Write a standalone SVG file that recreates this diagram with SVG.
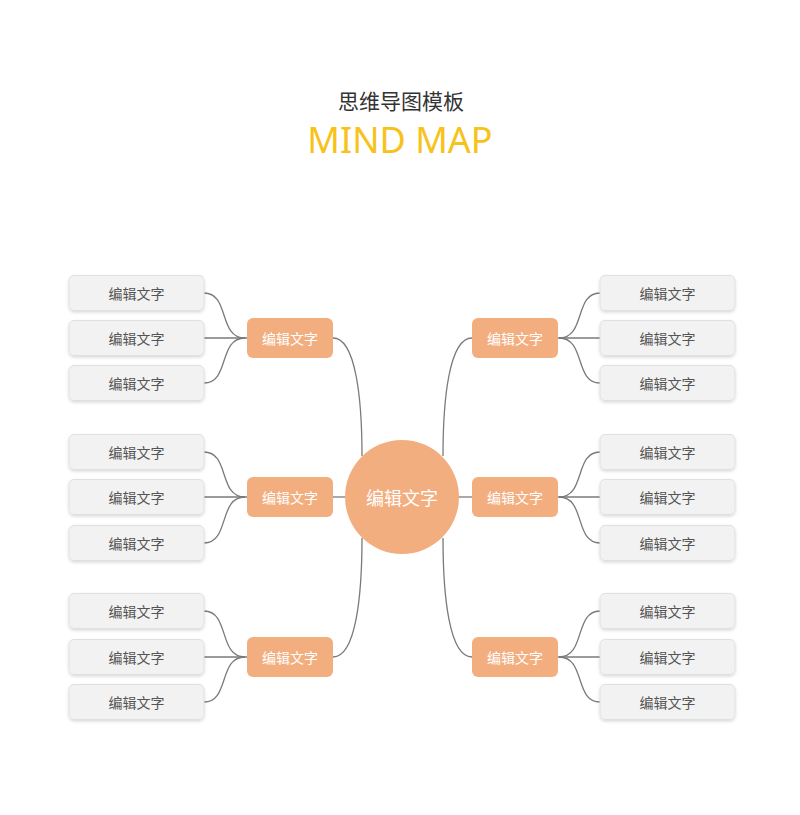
<svg xmlns="http://www.w3.org/2000/svg" width="800" height="815" viewBox="0 0 800 815">
<defs>
<filter id="sh" x="-10%" y="-20%" width="120%" height="150%">
<feDropShadow dx="0" dy="1.5" stdDeviation="1.5" flood-color="#000" flood-opacity="0.15"/>
</filter>
<style>
.leaf rect{fill:#F2F2F2;stroke:#E0E0E0;stroke-width:1;filter:url(#sh)}
.leaf text{font-family:"Noto Sans CJK SC","Noto Sans",sans-serif;font-size:14px;fill:#555;text-anchor:middle;dominant-baseline:central}
.mid rect{fill:#F3AE80}
.mid text{font-family:"Noto Sans CJK SC","Noto Sans",sans-serif;font-size:14px;fill:#fff;text-anchor:middle;dominant-baseline:central}
.conn path{fill:none;stroke:#7A7A7A;stroke-width:1.3}
</style>
</defs>
<rect width="800" height="815" fill="#fff"/>
<text x="401" y="100" font-family="Noto Sans CJK SC,sans-serif" font-size="21" fill="#333" text-anchor="middle" dominant-baseline="central">思维导图模板</text>
<text x="400" y="153" font-family="Noto Sans,Open Sans,sans-serif" font-size="36" fill="#F7C21A" text-anchor="middle">MIND MAP</text>
<g class="conn" id="connectors">
<path d="M333,338 C356,338 362,400 362,456"/>
<path d="M333,497 L346,497"/>
<path d="M333,657 C356,657 362,595 362,538"/>
<path d="M472,338 C449,338 443,400 443,456"/>
<path d="M472,497 L459,497"/>
<path d="M472,657 C449,657 443,595 443,538"/>
<path d="M204,293 C230,293 218,338 245,338"/><path d="M204,338 L247,338"/><path d="M204,383 C230,383 218,338 245,338"/>
<path d="M204,452 C230,452 218,497 245,497"/><path d="M204,497 L247,497"/><path d="M204,543 C230,543 218,497 245,497"/>
<path d="M204,611 C230,611 218,657 245,657"/><path d="M204,657 L247,657"/><path d="M204,702 C230,702 218,657 245,657"/>
<path d="M600,293 C574,293 586,338 559,338"/><path d="M600,338 L557,338"/><path d="M600,383 C574,383 586,338 559,338"/>
<path d="M600,452 C574,452 586,497 559,497"/><path d="M600,497 L557,497"/><path d="M600,543 C574,543 586,497 559,497"/>
<path d="M600,611 C574,611 586,657 559,657"/><path d="M600,657 L557,657"/><path d="M600,702 C574,702 586,657 559,657"/>
</g>
<g id="center"><circle cx="402" cy="497" r="57" fill="#F3AE80"/><text x="402" y="497" font-family="Noto Sans CJK SC,sans-serif" font-size="18" fill="#fff" text-anchor="middle" dominant-baseline="central">编辑文字</text></g>
<g id="mid-l1" class="mid"><rect x="247" y="318" width="86" height="40" rx="6"/><text x="290" y="338">编辑文字</text></g>
<g id="mid-l2" class="mid"><rect x="247" y="477" width="86" height="40" rx="6"/><text x="290" y="497">编辑文字</text></g>
<g id="mid-l3" class="mid"><rect x="247" y="637" width="86" height="40" rx="6"/><text x="290" y="657">编辑文字</text></g>
<g id="mid-r1" class="mid"><rect x="472" y="318" width="86" height="40" rx="6"/><text x="515" y="338">编辑文字</text></g>
<g id="mid-r2" class="mid"><rect x="472" y="477" width="86" height="40" rx="6"/><text x="515" y="497">编辑文字</text></g>
<g id="mid-r3" class="mid"><rect x="472" y="637" width="86" height="40" rx="6"/><text x="515" y="657">编辑文字</text></g>
<g id="leaf-l1" class="leaf"><rect x="69" y="275.5" width="135" height="35" rx="5"/><text x="136.5" y="293">编辑文字</text></g>
<g id="leaf-l2" class="leaf"><rect x="69" y="320.5" width="135" height="35" rx="5"/><text x="136.5" y="338">编辑文字</text></g>
<g id="leaf-l3" class="leaf"><rect x="69" y="365.5" width="135" height="35" rx="5"/><text x="136.5" y="383">编辑文字</text></g>
<g id="leaf-l4" class="leaf"><rect x="69" y="434.5" width="135" height="35" rx="5"/><text x="136.5" y="452">编辑文字</text></g>
<g id="leaf-l5" class="leaf"><rect x="69" y="479.5" width="135" height="35" rx="5"/><text x="136.5" y="497">编辑文字</text></g>
<g id="leaf-l6" class="leaf"><rect x="69" y="525.5" width="135" height="35" rx="5"/><text x="136.5" y="543">编辑文字</text></g>
<g id="leaf-l7" class="leaf"><rect x="69" y="593.5" width="135" height="35" rx="5"/><text x="136.5" y="611">编辑文字</text></g>
<g id="leaf-l8" class="leaf"><rect x="69" y="639.5" width="135" height="35" rx="5"/><text x="136.5" y="657">编辑文字</text></g>
<g id="leaf-l9" class="leaf"><rect x="69" y="684.5" width="135" height="35" rx="5"/><text x="136.5" y="702">编辑文字</text></g>
<g id="leaf-r1" class="leaf"><rect x="600" y="275.5" width="135" height="35" rx="5"/><text x="667.5" y="293">编辑文字</text></g>
<g id="leaf-r2" class="leaf"><rect x="600" y="320.5" width="135" height="35" rx="5"/><text x="667.5" y="338">编辑文字</text></g>
<g id="leaf-r3" class="leaf"><rect x="600" y="365.5" width="135" height="35" rx="5"/><text x="667.5" y="383">编辑文字</text></g>
<g id="leaf-r4" class="leaf"><rect x="600" y="434.5" width="135" height="35" rx="5"/><text x="667.5" y="452">编辑文字</text></g>
<g id="leaf-r5" class="leaf"><rect x="600" y="479.5" width="135" height="35" rx="5"/><text x="667.5" y="497">编辑文字</text></g>
<g id="leaf-r6" class="leaf"><rect x="600" y="525.5" width="135" height="35" rx="5"/><text x="667.5" y="543">编辑文字</text></g>
<g id="leaf-r7" class="leaf"><rect x="600" y="593.5" width="135" height="35" rx="5"/><text x="667.5" y="611">编辑文字</text></g>
<g id="leaf-r8" class="leaf"><rect x="600" y="639.5" width="135" height="35" rx="5"/><text x="667.5" y="657">编辑文字</text></g>
<g id="leaf-r9" class="leaf"><rect x="600" y="684.5" width="135" height="35" rx="5"/><text x="667.5" y="702">编辑文字</text></g>
</svg>
